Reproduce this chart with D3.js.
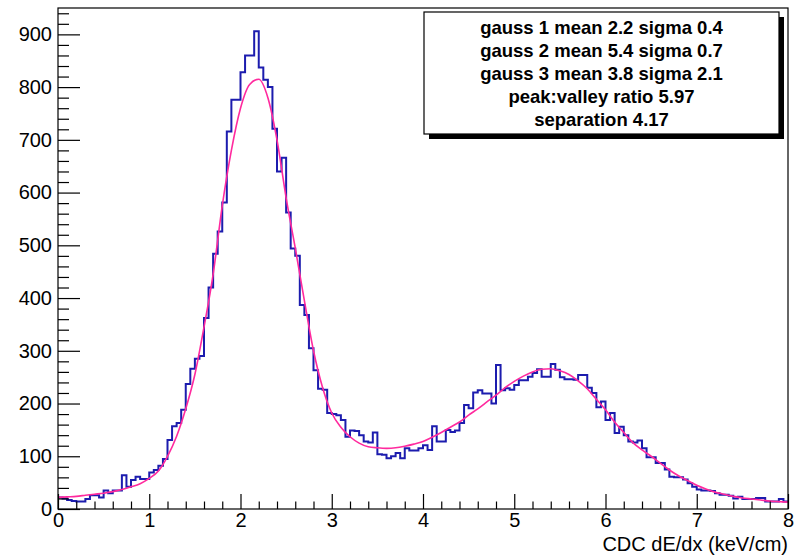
<!DOCTYPE html>
<html>
<head>
<meta charset="utf-8">
<script src="https://cdn.jsdelivr.net/npm/d3@7"></script>
<style>
  html, body { margin: 0; padding: 0; background: #fff; }
  svg { display: block; }
  text { font-family: "Liberation Sans", Arial, Helvetica, sans-serif; }
</style>
</head>
<body>
<svg id="chart" width="799" height="557"></svg>
<script>
// ---------------- data ----------------
const binStart = 0;
const binWidth = 0.05;
const counts = [
  22, 20, 17, 15, 14, 14, 19, 26, 26, 22, 35, 30, 35, 35, 64, 42, 55, 61, 57, 57,
  69, 74, 82, 95, 131, 157, 163, 188, 237, 266, 285, 290, 362, 420, 484, 526, 581, 716, 776, 776,
  828, 860, 860, 906, 837, 814, 800, 721, 640, 666, 562, 494, 480, 387, 368, 305, 263, 228, 226, 182,
  180, 178, 169, 137, 149, 148, 140, 128, 126, 145, 104, 103, 96, 100, 106, 96, 115, 111, 111, 115,
  121, 112, 157, 128, 128, 150, 146, 149, 163, 197, 191, 221, 225, 219, 219, 200, 273, 225, 229, 226,
  235, 244, 244, 251, 258, 265, 251, 251, 275, 264, 250, 246, 246, 245, 254, 254, 230, 220, 193, 204,
  169, 182, 144, 156, 140, 128, 126, 130, 115, 98, 98, 87, 87, 75, 61, 60, 60, 56, 49, 42,
  37, 35, 35, 34, 30, 27, 27, 25, 20, 23, 19, 19, 19, 21, 21, 14, 14, 14, 19, 14
];
const fitX = [
  0.0, 0.1, 0.2, 0.3, 0.4, 0.5, 0.6, 0.7, 0.8, 0.9,
  1.0, 1.1, 1.2, 1.3, 1.4, 1.5, 1.6, 1.7, 1.8, 1.9,
  2.0, 2.1, 2.2, 2.3, 2.4, 2.5, 2.6, 2.7, 2.8, 2.9,
  3.0, 3.1, 3.2, 3.3, 3.4, 3.5, 3.6, 3.7, 3.8, 3.9,
  4.0, 4.1, 4.2, 4.3, 4.4, 4.5, 4.6, 4.7, 4.8, 4.9,
  5.0, 5.1, 5.2, 5.3, 5.4, 5.5, 5.6, 5.7, 5.8, 5.9,
  6.0, 6.1, 6.2, 6.3, 6.4, 6.5, 6.6, 6.7, 6.8, 6.9,
  7.0, 7.1, 7.2, 7.3, 7.4, 7.5, 7.6, 7.7, 7.8, 7.9,
  8.0
];
const fitY = [
  22, 23, 24, 26, 28, 30, 33, 37, 42, 48,
  58, 72, 100, 138, 190, 255, 345, 445, 575, 680,
  760, 805, 815, 780, 700, 590, 495, 395, 300, 230,
  182, 155, 137, 125, 118, 116, 115, 116, 119, 123,
  128, 136, 145, 155, 165, 178, 190, 203, 216, 230,
  242, 252, 260, 265, 266, 262, 255, 243, 228, 208,
  188, 165, 145, 126, 112, 100, 87, 74, 63, 54,
  45, 38, 32, 28, 24, 21, 19, 17, 15, 14,
  13
];
const xDomain = [0, 8];
const yDomain = [0, 950];
const xMajorTicks = [0, 1, 2, 3, 4, 5, 6, 7, 8];
const xMinorTicks = [0.2,0.4,0.6,0.8,1.2,1.4,1.6,1.8,2.2,2.4,2.6,2.8,3.2,3.4,3.6,3.8,4.2,4.4,4.6,4.8,5.2,5.4,5.6,5.8,6.2,6.4,6.6,6.8,7.2,7.4,7.6,7.8];
const yMajorTicks = [0, 100, 200, 300, 400, 500, 600, 700, 800, 900];
const yMinorTicks = [20,40,60,80,120,140,160,180,220,240,260,280,320,340,360,380,420,440,460,480,520,540,560,580,620,640,660,680,720,740,760,780,820,840,860,880,920,940];
const xTitle = "CDC dE/dx (keV/cm)";
const legendLines = [
  "gauss 1 mean 2.2 sigma 0.4",
  "gauss 2 mean 5.4 sigma 0.7",
  "gauss 3 mean 3.8 sigma 2.1",
  "peak:valley ratio 5.97",
  "separation 4.17"
];

// ---------------- layout ----------------
const W = 799, H = 557;
const M = { left: 58, right: 11, top: 8, bottom: 48 };
const pw = W - M.left - M.right, ph = H - M.top - M.bottom;

const svg = d3.select("#chart");
svg.append("rect").attr("width", W).attr("height", H).attr("fill", "#fff");

const x = d3.scaleLinear().domain(xDomain).range([M.left, M.left + pw]);
const y = d3.scaleLinear().domain(yDomain).range([M.top + ph, M.top]);

// histogram step path
const pts = [];
counts.forEach((c, i) => {
  const x0 = binStart + i * binWidth, x1 = x0 + binWidth;
  pts.push([x0, c], [x1, c]);
});
const histLine = d3.line().x(d => x(d[0])).y(d => y(d[1]));
svg.append("path").attr("d", histLine(pts))
  .attr("fill", "none").attr("stroke", "#1c1cae").attr("stroke-width", 2)
  .attr("stroke-linejoin", "miter");

// fit curve
const fitLine = d3.line().x((d, i) => x(fitX[i])).y(d => y(d)).curve(d3.curveMonotoneX);
svg.append("path").attr("d", fitLine(fitY))
  .attr("fill", "none").attr("stroke", "#ff2a9e").attr("stroke-width", 1.6);

// axes
const axX = svg.append("g").attr("transform", `translate(0,${M.top + ph})`);
axX.call(d3.axisBottom(x).tickValues(xMinorTicks).tickSizeInner(-7.5).tickSizeOuter(0).tickFormat(""));
axX.append("g").call(d3.axisBottom(x).tickValues(xMajorTicks).tickSizeInner(-15).tickSizeOuter(0).tickPadding(4).tickFormat(d3.format("d")));
const axY = svg.append("g").attr("transform", `translate(${M.left},0)`);
axY.call(d3.axisLeft(y).tickValues(yMinorTicks).tickSizeInner(-11).tickSizeOuter(0).tickFormat(""));
axY.append("g").call(d3.axisLeft(y).tickValues(yMajorTicks).tickSizeInner(-22).tickSizeOuter(0).tickPadding(6).tickFormat(d3.format("d")));
svg.selectAll(".domain").remove();
svg.selectAll(".tick line").attr("stroke", "#000").attr("stroke-width", 1.2);
svg.selectAll(".tick text").attr("fill", "#000").style("font-size", "20px")
  .style("font-family", "'Liberation Sans', Arial, sans-serif");

// frame
svg.append("rect").attr("x", M.left).attr("y", M.top).attr("width", pw).attr("height", ph)
  .attr("fill", "none").attr("stroke", "#000").attr("stroke-width", 1.2);

// x title
svg.append("text").attr("x", M.left + pw).attr("y", 551).attr("text-anchor", "end")
  .style("font-size", "20px").attr("fill", "#000").text(xTitle);

// legend box
const L = { x: 424, y: 12, w: 355, h: 122, sh: 5 };
svg.append("rect").attr("x", L.x + L.sh).attr("y", L.y + L.sh).attr("width", L.w).attr("height", L.h).attr("fill", "#000");
svg.append("rect").attr("x", L.x).attr("y", L.y).attr("width", L.w).attr("height", L.h)
  .attr("fill", "#fff").attr("stroke", "#000").attr("stroke-width", 1.2);
const lineY = d3.scaleLinear().domain([0, legendLines.length - 1]).range([34, 126]);
svg.append("g").selectAll("text").data(legendLines).join("text")
  .attr("x", L.x + L.w / 2).attr("y", (d, i) => lineY(i))
  .attr("text-anchor", "middle").style("font-size", "18.5px").style("font-weight", "bold")
  .attr("fill", "#000").text(d => d);
</script>
</body>
</html>
